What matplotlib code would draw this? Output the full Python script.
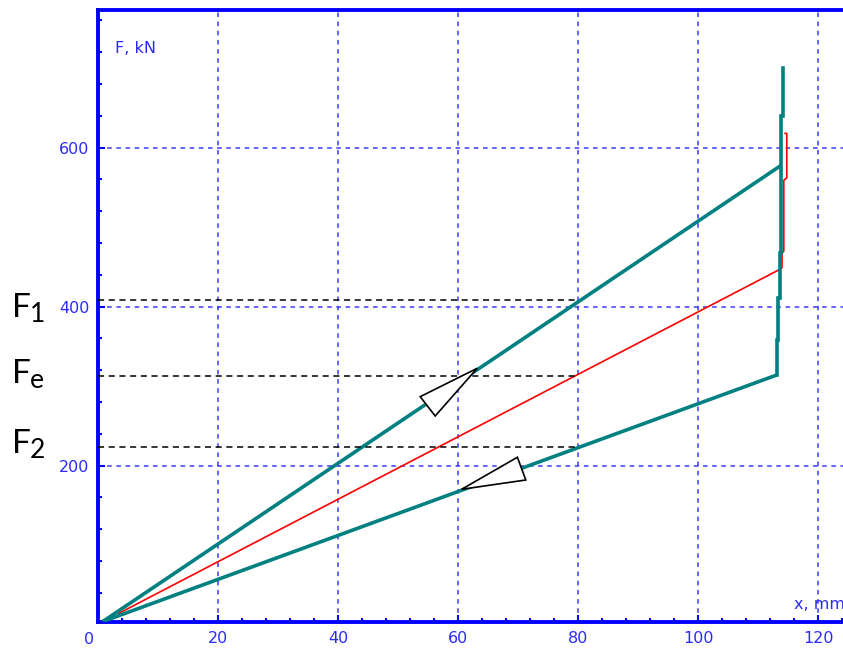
import matplotlib
matplotlib.use("Agg")
import matplotlib.pyplot as plt
from matplotlib.patches import Polygon
from matplotlib.ticker import MultipleLocator, FixedLocator

# ---- data (x in mm, F in kN) ----
load_x = [0.8, 113.9]
load_y = [4, 578]
hold_x = [113.1, 113.1, 113.4, 113.4, 113.7, 113.7, 113.9, 113.9, 114.2, 114.2]
hold_y = [314, 358, 358, 411, 411, 467, 467, 640, 640, 700]
unload_x = [113.1, 0.8]
unload_y = [314, 4]
red_x = [3.4, 113.4, 114.0, 114.0, 114.3, 114.3, 114.8, 114.8, 114.5]
red_y = [14, 446, 449, 467, 470, 559, 562, 618, 618]

level_names = ["1", "e", "2"]
level_values = [408, 313, 223.5]
level_x_end = [79.5, 80, 80]

arrow_up = [(63.2, 322.5), (53.7, 286.8), (56.2, 262.5)]
arrow_down = [(60.6, 170.3), (69.9, 210.6), (71.3, 182.0)]

x_ticks = [0, 20, 40, 60, 80, 100, 120]
y_ticks = [200, 400, 600]

BLUE = "#0000ff"
LBL = "#2a2aff"
GRID = "#3b3bff"
TEAL = "#008080"

W, H = 843, 649
fig = plt.figure(figsize=(W / 100, H / 100), dpi=100)
left, right, bottom, top = 98, 852, 621.5, 9.5
ax = fig.add_axes([left / W, (H - bottom) / H, (right - left) / W, (bottom - top) / H])
ax.set_xlim(0, (right - left) / 6.0)
ax.set_ylim(4, 773.8)

ax.xaxis.set_major_locator(FixedLocator(x_ticks))
ax.yaxis.set_major_locator(FixedLocator(y_ticks))
ax.xaxis.set_minor_locator(MultipleLocator(4))
ax.yaxis.set_minor_locator(MultipleLocator(40))

for s in ["left", "bottom", "top"]:
    ax.spines[s].set_color(BLUE)
    ax.spines[s].set_linewidth(2.8)
ax.spines["right"].set_visible(False)

ax.tick_params(which="both", direction="in", color=BLUE, labelcolor=LBL,
               width=1.5, labelsize=11.5)
ax.tick_params(which="major", length=5, pad=6)
ax.tick_params(which="minor", length=3.2)
ax.tick_params(axis="x", which="major", pad=7)
ax.set_xticklabels([""] + [str(v) for v in x_ticks[1:]])
ax.set_yticklabels([str(v) for v in y_ticks])
# the "0" label sits slightly left of the axis corner in the reference
ax.annotate(str(x_ticks[0]), xy=(x_ticks[0], 0), xycoords=("data", "axes fraction"),
            xytext=(-9, -10), textcoords="offset pixels", ha="center", va="top",
            color=LBL, fontsize=11.5, annotation_clip=False)

ax.grid(True, which="major", color=GRID, linestyle=(0, (3, 3)), linewidth=1.1)
ax.set_axisbelow(True)

# curves
ax.plot(red_x, red_y, color="#ff0000", lw=1.2, zorder=3)
ax.plot(load_x, load_y, color=TEAL, lw=2.6, zorder=4, solid_capstyle="butt")
ax.plot(hold_x, hold_y, color=TEAL, lw=2.6, zorder=4, solid_joinstyle="miter")
ax.plot(unload_x, unload_y, color=TEAL, lw=2.6, zorder=4, solid_capstyle="butt")

# arrows
for pts in (arrow_up, arrow_down):
    ax.add_patch(Polygon(pts, closed=True, facecolor="white", edgecolor="black",
                         lw=1.2, zorder=6))

# dashed levels
for v, xe in zip(level_values, level_x_end):
    ax.plot([0, xe], [v, v], color="black", lw=1.1, linestyle=(0, (4, 3)), zorder=5,
            clip_on=False)

# axis labels
ax.text(0.023, 0.937, "F, kN", transform=ax.transAxes, color=LBL, fontsize=11.5,
        ha="left", va="center")
ax.text(116.0, 20, "x, mm", color=LBL, fontsize=11.5, ha="left", va="baseline",
        clip_on=False)

# F labels on the left (figure pixel coordinates)
f_baselines = [317, 383, 453]
sub_baselines = [322, 388, 458]
for name, fb, sb in zip(level_names, f_baselines, sub_baselines):
    fig.text(12 / W, (H - fb) / H, "F", fontsize=24, family="Lato", color="black",
             ha="left", va="baseline")
    fig.text(29.5 / W, (H - sb) / H, name, fontsize=19, family="Lato", color="black",
             ha="left", va="baseline")

fig.savefig("out.png", dpi=100)
